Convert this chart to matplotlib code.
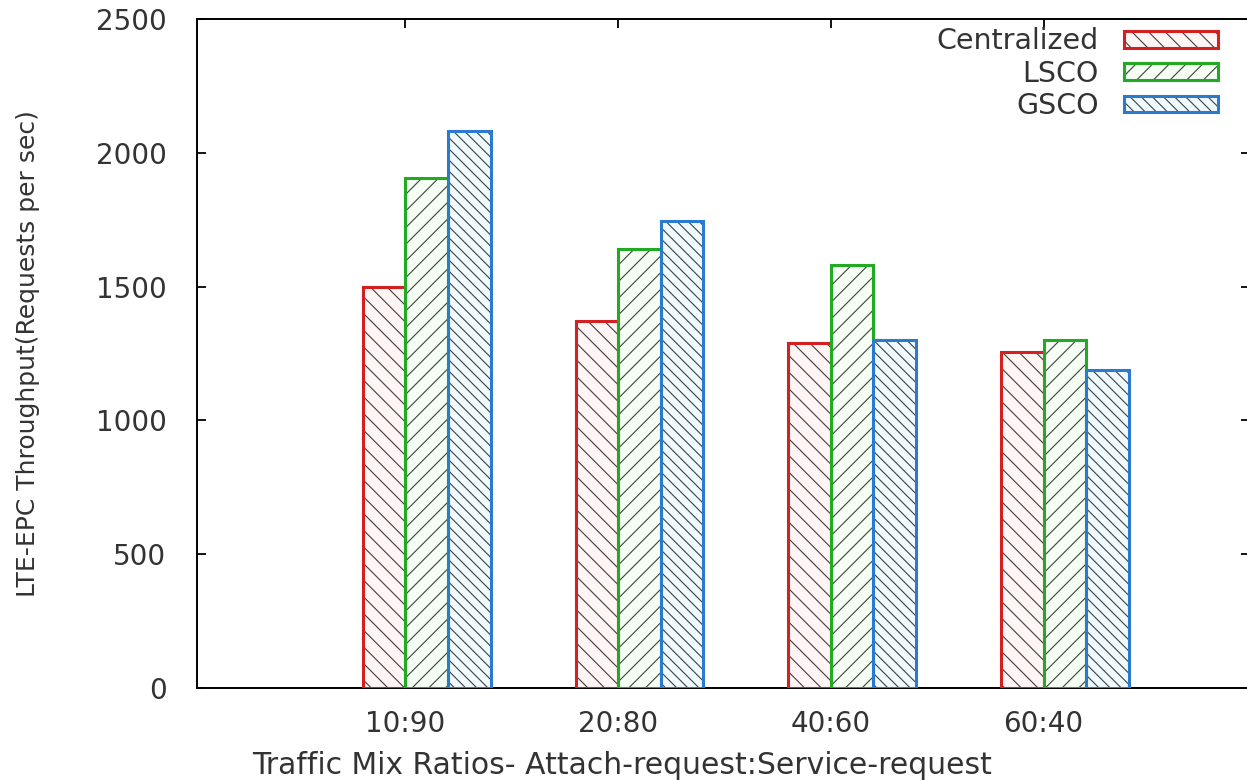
import numpy as np
import matplotlib
matplotlib.use("Agg")
import matplotlib.pyplot as plt
from matplotlib.patches import Patch
from matplotlib.legend_handler import HandlerTuple

# values
ratios = ["10:90", "20:80", "40:60", "60:40"]
series = ["Centralized", "LSCO", "GSCO"]
centralized = [1500, 1370, 1290, 1255]
lsco = [1905, 1640, 1580, 1300]
gsco = [2080, 1745, 1300, 1190]

values = [centralized, lsco, gsco]
edge_colors = ["#d42020", "#22aa22", "#2a7ad0"]
face_tints = ["#fff5f5", "#f5fff3", "#f0fbff"]
hatches = ["\\\\", "//", "\\\\\\"]
offsets = [-0.1, 0.1, 0.3]
bar_w = 0.2
hatch_gray = "#404040"
text_gray = "#333333"

plt.rcParams["hatch.linewidth"] = 0.8
plt.rcParams["font.family"] = "DejaVu Sans"

fig = plt.figure(figsize=(12.47, 7.8), dpi=100)
ax = fig.add_axes([0.158, 0.118, 0.8444, 0.8577])

x = np.arange(len(ratios))
handles = []
for vals, col, face, h, off in zip(values, edge_colors, face_tints, hatches, offsets):
    # hatch layer in gray, then the coloured outline on top
    ax.bar(x + off, vals, bar_w, facecolor=face, edgecolor=hatch_gray,
           hatch=h, linewidth=0, zorder=2)
    ax.bar(x + off, vals, bar_w, fill=False, edgecolor=col, linewidth=2.2,
           zorder=3)
    hp = Patch(facecolor=face, edgecolor=hatch_gray, hatch=h, linewidth=0)
    ep = Patch(fill=False, edgecolor=col, linewidth=2.2)
    handles.append((hp, ep))

ax.set_xlim(-0.98, 3.97)
ax.set_ylim(0, 2500)
ax.set_yticks([0, 500, 1000, 1500, 2000, 2500])
ax.set_xticks(x)
ax.set_xticklabels(ratios)

ax.tick_params(axis="both", direction="in", length=6.5, width=1.3,
               top=True, right=True, labelsize=20, labelcolor=text_gray)
ax.tick_params(axis="y", pad=22)
ax.tick_params(axis="x", pad=16)
for s in ax.spines.values():
    s.set_linewidth(1.4)

ax.set_xlabel("Traffic Mix Ratios- Attach-request:Service-request",
              fontsize=21.5, color=text_gray)
ax.xaxis.set_label_coords(0.404, -0.094)
ax.set_ylabel("LTE-EPC Throughput(Requests per sec)", fontsize=18,
              color=text_gray, labelpad=40)

leg = ax.legend(handles, series, handler_map={tuple: HandlerTuple(ndivide=1)},
                loc="upper right", frameon=False, markerfirst=False,
                fontsize=20.5, handlelength=3.3, handleheight=0.53,
                handletextpad=0.9, labelspacing=0.15, borderpad=0.3,
                borderaxespad=0, bbox_to_anchor=(0.978, 1.0))
for t in leg.get_texts():
    t.set_color(text_gray)

fig.savefig("out.png", dpi=100)
